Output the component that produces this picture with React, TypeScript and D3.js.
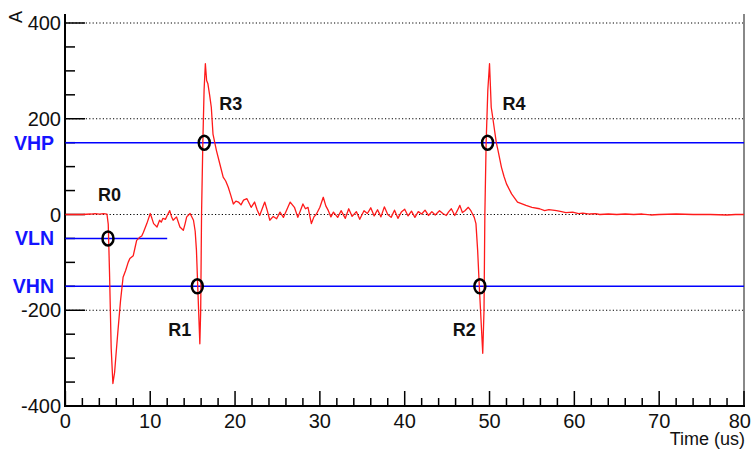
import React from "react";
import * as d3 from "d3";

const timeUs: number[] = [
  0, 1, 2, 3, 3.5, 4, 4.5, 4.9, 5.05, 5.2, 5.4, 5.6, 5.8, 6.0, 6.2, 6.5, 6.8, 7.1, 7.4, 7.6, 8.0, 8.2, 8.4, 8.8, 9.0, 9.2, 9.6, 10.0,
  10.2, 10.4, 10.8, 11.1, 11.3, 11.5, 11.8, 12.0, 12.3, 12.5, 12.7, 13.1, 13.5, 13.9, 14.1, 14.3, 14.7, 15.1, 15.3, 15.45, 15.6, 15.85,
  15.95, 16.05, 16.2, 16.35, 16.5, 16.65, 16.8, 17.0, 17.2, 17.4, 17.8, 18.2, 18.6, 18.9, 19.2, 19.5, 19.8, 20.1, 20.4, 20.7, 21.0, 21.4,
  21.9, 22.3, 22.6, 22.9, 23.2, 23.5, 23.8, 24.1, 24.5, 24.9, 25.3, 25.7, 26.1, 26.5, 27.0, 27.4, 27.7, 28.0, 28.3, 28.6, 29.0, 29.3,
  29.6, 30.0, 30.4, 30.7, 31.0, 31.3, 31.6, 32.1, 32.5, 33.0, 33.4, 33.8, 34.3, 34.7, 35.2, 35.6, 36.0, 36.4,
  36.8, 37.2, 37.6, 38.0, 38.4, 38.8, 39.2, 39.6, 40.0, 40.4, 40.8, 41.2, 41.6, 42.0, 42.4, 42.8,
  43.2, 43.6, 44.1, 44.5, 44.9, 45.2, 45.5, 45.9, 46.2, 46.5, 46.8, 47.1, 47.5, 47.8, 48.0, 48.2, 48.4, 48.6, 48.8, 49.2, 49.35,
  49.45, 49.6, 49.8, 50.0, 50.1, 50.2, 50.4, 50.6, 50.8, 51.0, 51.4, 51.7, 52.0, 52.6, 53.3, 54.3, 55.0, 55.9, 56.5, 57.0, 57.9, 58.5,
  59.0, 59.8, 60.5, 61.0, 61.8, 62.5, 63, 64, 65, 66, 67, 68, 69, 70, 72, 74, 76, 78, 79, 80,
];
const currentA: number[] = [
  0, 0, 0, 1, 2, 1, 2, 1, -20, -120, -280, -353, -330, -285, -242, -180, -131, -117, -100, -92, -86, -70, -54, -47, -45, -37, -19, 2,
  -8, -19, -26, -12, -16, -8, -10, -2, 8, -4, -12, -5, -26, -33, -20, -5, 2, -12, -35, -75, -150, -270,
  -200, 0, 148, 260, 315, 280, 273, 250, 224, 168, 134, 106, 78, 70, 57, 40, 22, 28, 26, 20, 30, 33,
  15, 26, 10, -2, 12, 26, 8, -12, -4, -9, 5, -6, 10, 26, 15, -6, 8, 22, 12, 15, -19, -5,
  1, 15, 36, 18, 8, -5, 5, -6, 8, -8, 12, -4, 6, -10, 8, 2, 14, -3,
  10, -5, 16, 0, -6, 9, -8, 5, 11, -3, 7, -6, 6, 1, 9, -2,
  6, -1, 8, 2, -2, 6, 12, -2, 8, 19, 4, 8, 15, 8, 1, -6, -19, -75, -152, -290, -200,
  0, 150, 260, 315, 270, 224, 200, 175, 150, 134, 99, 80, 64, 43, 26, 19, 15, 12, 8, 10, 8, 6,
  4, 5, 2, 3, 1, 2, 0, 1, 0, 1, 0, 1, -1, 0, 1, 0, 0, -1, 0, 0,
];

const xTickValues: number[] = [0, 10, 20, 30, 40, 50, 60, 70, 80];
const yTickValues: number[] = [-400, -200, 0, 200, 400];
const gridValues: number[] = [-200, 0, 200, 400];

const thresholdNames: string[] = ["VHP", "VLN", "VHN"];
const thresholdValues: number[] = [150, -50, -150];
const thresholdEnds: number[] = [80, 12, 80];

const markerNames: string[] = ["R0", "R1", "R2", "R3", "R4"];
const markerTimes: number[] = [5.02, 15.55, 48.86, 16.37, 49.77];
const markerValues: number[] = [-50, -150, -150, 150, 150];
// label offsets in pixels relative to marker
const labelDx: number[] = [-10, -29, -27, 15, 15];
const labelDy: number[] = [-37, 50, 50, -33, -33];

export default function App() {
  const x = d3.scaleLinear().domain([0, 80]).range([65.4, 744]);
  const y = d3.scaleLinear().domain([-400, 418.8]).range([406, 14]);
  const pts = timeUs.map((t, i) => [t, currentA[i]] as [number, number]);
  const line = d3
    .line<[number, number]>()
    .x((d) => x(d[0]))
    .y((d) => y(d[1]));

  const xMinor = d3.range(0, 80.01, 2);
  const yMinor = d3.range(-400, 400.01, 50);
  const numFont = "'Liberation Sans Narrow', 'Liberation Sans', Arial, sans-serif";
  const boldFont = "'Liberation Sans', Arial, sans-serif";

  return (
    <svg width={751} height={451} style={{ position: "absolute", left: 0, top: 0, background: "#fff" }}>
      <rect x={0} y={0} width={751} height={451} fill="#fff" />
      {gridValues.map((v) => (
        <line key={"g" + v} x1={x(0)} x2={x(80)} y1={y(v)} y2={y(v)} stroke="#000" strokeWidth={1} strokeDasharray="1.2 2.2" />
      ))}
      {/* frame */}
      <line x1={744} x2={744} y1={14} y2={406} stroke="#888" strokeWidth={2} />
      <line x1={65} x2={65} y1={14} y2={407} stroke="#000" strokeWidth={2} />
      <line x1={64} x2={745} y1={406} y2={406} stroke="#000" strokeWidth={2} />
      {yMinor.map((v) => (
        <line key={"ym" + v} x1={65} x2={v % 200 === 0 ? 85 : 75} y1={y(v)} y2={y(v)} stroke="#000" strokeWidth={1.5} />
      ))}
      {xMinor.map((t) => (
        <line key={"xm" + t} x1={x(t)} x2={x(t)} y1={406} y2={t % 10 === 0 ? 391 : 398} stroke="#000" strokeWidth={1.5} />
      ))}
      {yTickValues.map((v) => (
        <text key={"yl" + v} x={61} y={y(v) + 7} textAnchor="end" fontFamily={numFont} fontSize={20} fill="#111">
          {v}
        </text>
      ))}
      {xTickValues.map((t) => (
        <text
          key={"xl" + t}
          x={t === 80 ? 751 : x(t)}
          y={428}
          textAnchor={t === 80 ? "end" : "middle"}
          fontFamily={numFont}
          fontSize={20}
          fill="#111"
        >
          {t}
        </text>
      ))}
      <text x={745} y={445} textAnchor="end" fontFamily={numFont} fontSize={18} fill="#111">
        Time (us)
      </text>
      <text transform="translate(22,17) rotate(-90)" textAnchor="middle" fontFamily={numFont} fontSize={18} fill="#111">
        A
      </text>
      {thresholdNames.map((n, i) => (
        <g key={n}>
          <line x1={x(0)} x2={x(thresholdEnds[i])} y1={y(thresholdValues[i])} y2={y(thresholdValues[i])} stroke="#0000ff" strokeWidth={1.5} />
          <text x={54} y={y(thresholdValues[i]) + 7} textAnchor="end" fontFamily={boldFont} fontWeight="bold" fontSize={19.5} fill="#1414ff">
            {n}
          </text>
        </g>
      ))}
      <path d={line(pts) || ""} fill="none" stroke="#ff1a1a" strokeWidth={1.3} strokeLinejoin="round" />
      {markerNames.map((n, i) => {
        const cx = x(markerTimes[i]);
        const cy = y(markerValues[i]);
        return (
          <g key={n}>
            <ellipse cx={cx} cy={cy} rx={5.5} ry={7} fill="none" stroke="#000" strokeWidth={2.5} />
            <text x={cx + labelDx[i]} y={cy + labelDy[i]} fontFamily={boldFont} fontWeight="bold" fontSize={18} fill="#111">
              {n}
            </text>
          </g>
        );
      })}
    </svg>
  );
}
